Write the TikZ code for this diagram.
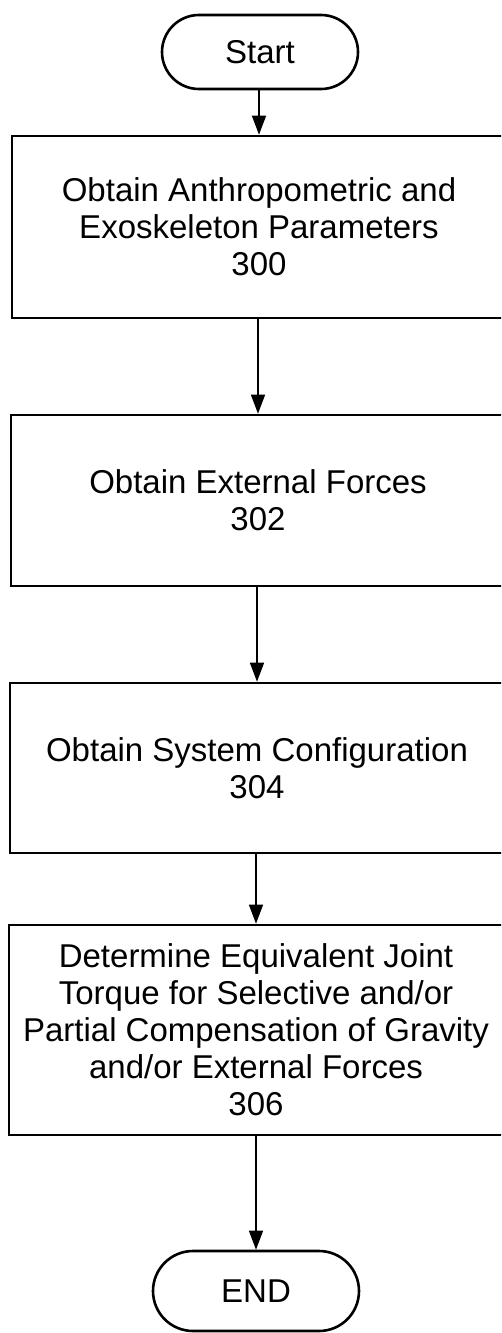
\documentclass[tikz,border=0pt]{standalone}
\usepackage{fontspec}
\setmainfont{Liberation Sans}
\usetikzlibrary{arrows.meta}
\newcommand\chartfont{\fontsize{33}{37}\selectfont}
\begin{document}
\begin{tikzpicture}[x=1pt,y=-1pt,
  flowbox/.style={draw, line width=2.6pt, minimum width=494pt, align=center,
    font=\chartfont, inner sep=0pt},
  terminal/.style={draw, line width=2.6pt, rounded corners=37pt,
    minimum width=196pt, minimum height=74pt, font=\chartfont, inner sep=0pt},
  flow/.style={-{Triangle[length=19pt,width=14pt]}, line width=1.4pt}]
  \useasboundingbox (0,0) rectangle (501,1333);
  \clip (0,0) rectangle (501,1333);

  % terminals and process steps
  \node[terminal] (start) at (260,52) {Start};
  \node[flowbox, minimum height=182pt] (b300) at (259,227)
    {Obtain Anthropometric and\\Exoskeleton Parameters\\300};
  \node[flowbox, minimum height=171pt] (b302) at (258,500.5)
    {Obtain External Forces\\302};
  \node[flowbox, minimum height=170pt] (b304) at (257,768)
    {Obtain System Configuration\\304};
  \node[flowbox, minimum height=210pt] (b306) at (256,1030)
    {Determine Equivalent Joint\\Torque for Selective and/or\\Partial Compensation of Gravity\\and/or External Forces\\306};
  \node[terminal, minimum width=206pt, minimum height=80pt, rounded corners=40pt]
    (finish) at (256,1291) {END};

  % connectors
  \draw[flow] (start.south -| b300) -- (b300);
  \draw[flow] (b300.south -| b302) -- (b302);
  \draw[flow] (b302.south -| b304) -- (b304);
  \draw[flow] (b304.south -| b306) -- (b306);
  \draw[flow] (b306) -- (finish);
\end{tikzpicture}
\end{document}
